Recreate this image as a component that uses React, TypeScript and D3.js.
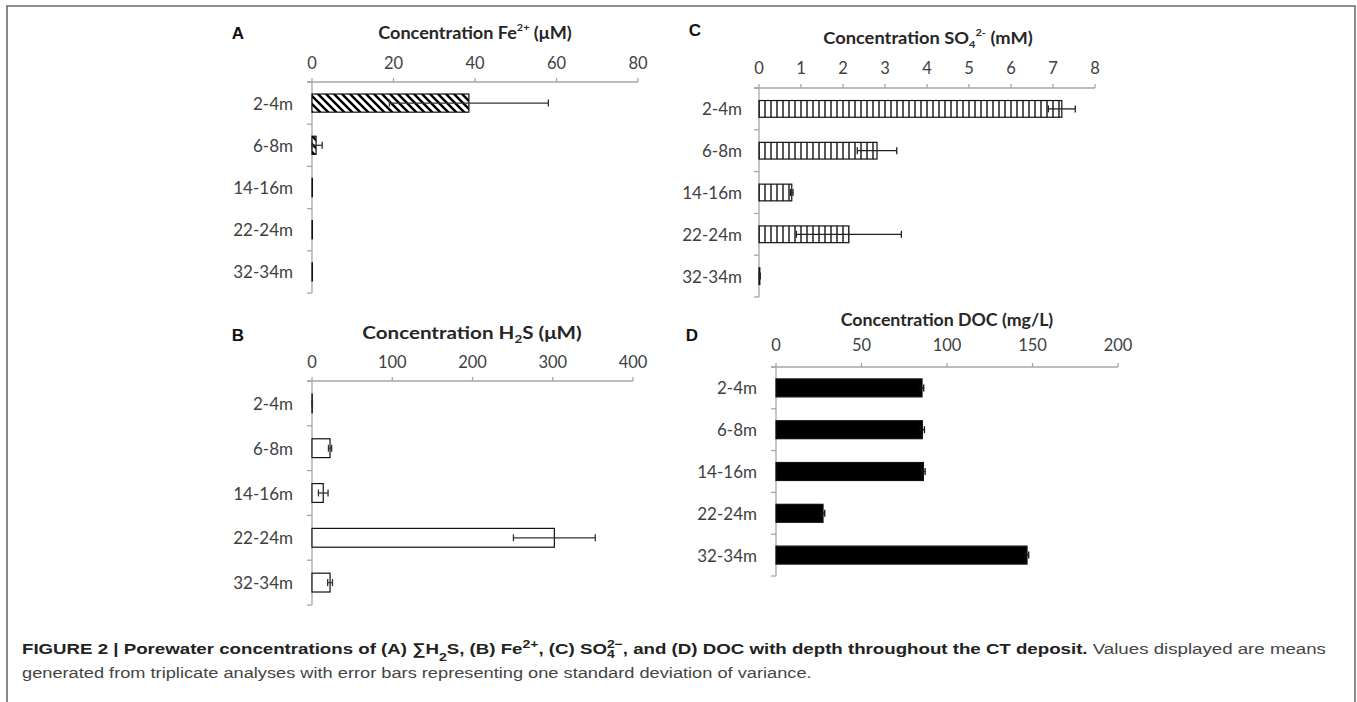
import React, { useRef, useState, useLayoutEffect } from "react";
import * as d3 from "d3";

// ---- data ----
const depths = ["2-4m", "6-8m", "14-16m", "22-24m", "32-34m"];
const feValues = [38.5, 1.0, 0.1, 0.1, 0.1];
const feSd = [19.5, 1.5, 0, 0, 0];
const feTicks = [0, 20, 40, 60, 80];
const h2sValues = [0.3, 22.5, 14, 302, 22.5];
const h2sSd = [0.3, 2, 6, 51, 3];
const h2sTicks = [0, 100, 200, 300, 400];
const so4Values = [7.21, 2.81, 0.78, 2.14, 0.02];
const so4Sd = [0.32, 0.47, 0.03, 1.25, 0.01];
const so4Ticks = [0, 1, 2, 3, 4, 5, 6, 7, 8];
const docValues = [85.4, 85.6, 86.2, 27.5, 146.8];
const docSd = [1.0, 1.2, 1.0, 1.0, 1.0];
const docTicks = [0, 50, 100, 150, 200];

const FONT = "Lato, 'Open Sans', sans-serif";
const CAP_FONT = "'Liberation Sans', Arial, sans-serif";

function Fit({ x, y, w, anchor = "start", children, ...rest }: any) {
  const ref = useRef<SVGTextElement>(null);
  const [s, setS] = useState(1);
  useLayoutEffect(() => {
    if (ref.current) {
      const bw = ref.current.getBBox().width;
      if (bw > 0) setS(w / bw);
    }
  }, []);
  return (
    <text ref={ref} transform={`translate(${x},${y}) scale(${s},1)`} textAnchor={anchor} {...rest}>
      {children}
    </text>
  );
}

function Panel(p: any) {
  const x = d3.scaleLinear().domain([0, p.ticks[p.ticks.length - 1]]).range([p.x0, p.x1]);
  const y = d3.scaleBand<string>().domain(depths).range([p.yTop, p.yBot]).paddingInner(p.pad).paddingOuter(p.pad / 2);
  const step = y.step();
  const bounds = d3.range(depths.length + 1).map((i) => p.yTop + i * step);
  const axisColor = "#a6a6a6";
  return (
    <g>
      <text x={p.lx} y={p.ly} fontFamily="'Liberation Sans', Arial, sans-serif" fontWeight="bold" fontSize={17} fill="#111" textAnchor="middle" dominantBaseline="central">
        {p.letter}
      </text>
      <Fit x={p.tcx} y={p.tcy} w={p.tw} anchor="middle" fontFamily={FONT} fontWeight="bold" fontSize={17} fill="#262626" dominantBaseline="central">
        {p.title}
      </Fit>
      {/* x axis */}
      <line x1={p.x0 - 5} x2={p.x1} y1={p.yTop} y2={p.yTop} stroke={axisColor} strokeWidth={1.3} />
      {p.ticks.map((t: number) => (
        <g key={t}>
          <line x1={x(t)} x2={x(t)} y1={p.yTop} y2={p.yTop - 4} stroke={axisColor} strokeWidth={1.3} />
          <text x={x(t)} y={p.yTop - p.tickGap} fontFamily={FONT} fontSize={16.5} fill="#404040" textAnchor="middle" dominantBaseline="central">
            {t}
          </text>
        </g>
      ))}
      {/* y axis */}
      <line x1={p.x0} x2={p.x0} y1={p.yTop} y2={p.yBot} stroke={axisColor} strokeWidth={1.3} />
      {bounds.map((b: number, i: number) => (
        <line key={i} x1={p.x0 - 5} x2={p.x0} y1={b} y2={b} stroke={axisColor} strokeWidth={1.3} />
      ))}
      {depths.map((d) => (
        <text key={d} x={p.x0 - p.labelGap} y={(y(d) as number) + y.bandwidth() / 2} fontFamily={FONT} fontSize={17} fill="#404040" textAnchor="end" dominantBaseline="central">
          {d}
        </text>
      ))}
      {/* bars */}
      {depths.map((d, i) => {
        const v = p.values[i];
        const yy = y(d) as number;
        const bh = y.bandwidth();
        return (
          <rect key={d} x={x(0)} y={yy} width={Math.max(0, x(v) - x(0))} height={bh} fill={p.fill} stroke="#111" strokeWidth={1.2} />
        );
      })}
      {/* error bars */}
      {depths.map((d, i) => {
        const v = p.values[i];
        const s = p.sd[i];
        if (!s) return null;
        const cy = (y(d) as number) + y.bandwidth() / 2;
        const a = x(Math.max(0, v - s));
        const b = x(v + s);
        const col = p.errColor;
        return (
          <g key={d} stroke={col} strokeWidth={1.3}>
            <line x1={a} x2={b} y1={cy} y2={cy} />
            <line x1={a} x2={a} y1={cy - 3.5} y2={cy + 3.5} />
            <line x1={b} x2={b} y1={cy - 3.5} y2={cy + 3.5} />
          </g>
        );
      })}
    </g>
  );
}

export default function App() {
  const panels = [
    {
      letter: "A", lx: 238, ly: 33,
      title: <>Concentration Fe<tspan baselineShift="super" fontSize="60%">2+</tspan> (μM)</>,
      tcx: 475, tcy: 33, tw: 194,
      x0: 312, x1: 638, yTop: 82, yBot: 293, tickGap: 19, labelGap: 19, pad: 0.57,
      ticks: feTicks, values: feValues, sd: feSd, fill: "url(#diag)", errColor: "#333",
    },
    {
      letter: "B", lx: 238, ly: 335,
      title: <>Concentration H<tspan baselineShift="sub" fontSize="65%">2</tspan>S (μM)</>,
      tcx: 472, tcy: 332, tw: 220,
      x0: 312, x1: 633, yTop: 381, yBot: 605, tickGap: 19, labelGap: 19, pad: 0.58,
      ticks: h2sTicks, values: h2sValues, sd: h2sSd, fill: "#fff", errColor: "#333",
    },
    {
      letter: "C", lx: 695, ly: 30,
      title: <>Concentration SO<tspan baselineShift="sub" fontSize="60%">4</tspan><tspan baselineShift="super" fontSize="60%">2-</tspan> (mM)</>,
      tcx: 928, tcy: 38, tw: 210,
      x0: 759, x1: 1095, yTop: 88, yBot: 297, tickGap: 20, labelGap: 17, pad: 0.6,
      ticks: so4Ticks, values: so4Values, sd: so4Sd, fill: "url(#vert)", errColor: "#222",
    },
    {
      letter: "D", lx: 692, ly: 335,
      title: <>Concentration DOC (mg/L)</>,
      tcx: 947, tcy: 320, tw: 213,
      x0: 776, x1: 1118, yTop: 367, yBot: 576, tickGap: 22, labelGap: 19, pad: 0.57,
      ticks: docTicks, values: docValues, sd: docSd, fill: "#000", errColor: "#111",
    },
  ];

  return (
    <svg width={1357} height={702} style={{ position: "absolute", left: 0, top: 0, background: "#fff" }}>
      <defs>
        <pattern id="diag" patternUnits="userSpaceOnUse" width={8} height={8}>
          <rect width={8} height={8} fill="#fff" />
          <path d="M-1,-1 L9,9 M-1,7 L1,9 M7,-1 L9,1" stroke="#000" strokeWidth={2.4} />
        </pattern>
        <pattern id="vert" patternUnits="userSpaceOnUse" width={6} height={10}>
          <rect width={6} height={10} fill="#fff" />
          <line x1={3} x2={3} y1={0} y2={10} stroke="#000" strokeWidth={1.3} />
        </pattern>
      </defs>
      <rect x={0} y={0} width={1357} height={702} fill="#fff" />
      {/* frame */}
      <path d="M7,702 L7,6 L1355,6 L1355,702" fill="none" stroke="#6b6b6b" strokeWidth={1.6} />
      {panels.map((p) => (
        <Panel key={p.letter} {...p} />
      ))}
      {/* caption */}
      <Fit x={22} y={654} w={1305} fontFamily={CAP_FONT} fontSize={15.5} fill="#222">
        <tspan fontWeight="bold">
          FIGURE 2 | Porewater concentrations of (A) ∑H<tspan baselineShift="sub" fontSize="75%">2</tspan>S, (B) Fe<tspan baselineShift="super" fontSize="75%">2+</tspan>, (C) SO<tspan baselineShift="-30%" fontSize="75%">4</tspan><tspan dx={-6.5} baselineShift="55%" fontSize="75%">2−</tspan>, and (D) DOC with depth throughout the CT deposit.
        </tspan>
        <tspan fill="#444"> Values displayed are means</tspan>
      </Fit>
      <Fit x={22} y={678} w={790} fontFamily={CAP_FONT} fontSize={15.5} fill="#444">
        generated from triplicate analyses with error bars representing one standard deviation of variance.
      </Fit>
    </svg>
  );
}
